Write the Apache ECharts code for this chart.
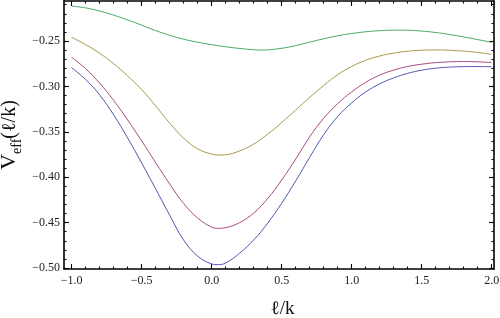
<!DOCTYPE html>
<html><head><meta charset="utf-8">
<script src="https://cdn.jsdelivr.net/npm/echarts@6/dist/echarts.min.js"></script>
<style>html,body{margin:0;padding:0;background:#fff}#c{width:500px;height:318px}</style>
</head><body><div id="c"></div>
<script>
var xsBlue = [-1.0,-0.9,-0.8,-0.7,-0.6,-0.5,-0.4,-0.3,-0.2,-0.1,0.0,0.04,0.1,0.2,0.3,0.4,0.5,0.6,0.7,0.8,0.9,1.0,1.1,1.2,1.3,1.4,1.5,1.6,1.7,1.8,1.9,2.0];
var blue = [-0.2794,-0.2924,-0.3094,-0.3314,-0.3569,-0.3844,-0.4129,-0.4419,-0.4694,-0.4869,-0.4955,-0.4963,-0.4945,-0.4836,-0.4691,-0.4506,-0.4286,-0.4041,-0.3781,-0.3531,-0.3331,-0.3181,-0.3061,-0.2971,-0.2906,-0.2856,-0.2821,-0.2799,-0.2787,-0.2782,-0.2781,-0.2783];
var xsMagenta = [-1.0,-0.9,-0.8,-0.7,-0.6,-0.5,-0.4,-0.3,-0.2,-0.1,0.0,0.05,0.1,0.2,0.3,0.4,0.5,0.6,0.7,0.8,0.9,1.0,1.1,1.2,1.3,1.4,1.5,1.6,1.7,1.8,1.9,2.0];
var magenta = [-0.2680,-0.2805,-0.2965,-0.3155,-0.3370,-0.3600,-0.3840,-0.4075,-0.4290,-0.4450,-0.4550,-0.4563,-0.4556,-0.4500,-0.4395,-0.4235,-0.4030,-0.3800,-0.3555,-0.3350,-0.3190,-0.3060,-0.2955,-0.2875,-0.2820,-0.2780,-0.2755,-0.2738,-0.2729,-0.2726,-0.2729,-0.2736];
var xsOlive = [-1.0,-0.9,-0.8,-0.7,-0.6,-0.5,-0.4,-0.3,-0.2,-0.1,0.0,0.06,0.1,0.2,0.3,0.4,0.5,0.6,0.7,0.8,0.9,1.0,1.1,1.2,1.3,1.4,1.5,1.6,1.7,1.8,1.9,2.0];
var olive = [-0.2459,-0.2540,-0.2635,-0.2750,-0.2885,-0.3035,-0.3215,-0.3405,-0.3570,-0.3688,-0.3745,-0.3756,-0.3753,-0.3710,-0.3635,-0.3525,-0.3398,-0.3260,-0.3120,-0.2990,-0.2870,-0.2780,-0.2712,-0.2665,-0.2633,-0.2612,-0.2601,-0.2598,-0.2602,-0.2611,-0.2626,-0.2647];
var xsGreen = [-1.0,-0.9,-0.8,-0.7,-0.6,-0.5,-0.4,-0.3,-0.2,-0.1,0.0,0.1,0.2,0.3,0.35,0.4,0.5,0.6,0.7,0.8,0.9,1.0,1.1,1.2,1.3,1.4,1.5,1.6,1.7,1.8,1.9,2.0];
var green = [-0.2115,-0.2135,-0.2170,-0.2215,-0.2268,-0.2325,-0.2385,-0.2437,-0.2480,-0.2513,-0.2540,-0.2563,-0.2582,-0.2596,-0.2600,-0.2597,-0.2580,-0.2550,-0.2512,-0.2475,-0.2442,-0.2417,-0.2398,-0.2386,-0.2380,-0.2381,-0.2390,-0.2406,-0.2428,-0.2455,-0.2484,-0.2514];

var XMIN = -1.055, XMAX = 2.0164, YMIN = -0.5011, YMAX = -0.2059;
var FONT = 'Liberation Serif';
function fmt(v, d){ var s = Math.abs(v).toFixed(d); return (Math.abs(v) > 1e-9 && v < 0 ? '\u2212' : '') + s; }
function pairs(xv, ys){ return xv.map(function(x,i){ return [x, ys[i]]; }); }
var frameLine = {show:true, onZero:false, lineStyle:{color:'#000', width:1.6}};
var tickStyle = {color:'#000', width:1.1};

function frameX(pos){ return {type:'value', gridIndex:0, position:pos, min:XMIN, max:XMAX, axisLine:frameLine, axisTick:{show:false}, axisLabel:{show:false}, splitLine:{show:false}}; }
function frameY(pos){ return {type:'value', gridIndex:0, position:pos, min:YMIN, max:YMAX, axisLine:frameLine, axisTick:{show:false}, axisLabel:{show:false}, splitLine:{show:false}}; }
function tickX(grid, pos, labels){
  return {type:'value', gridIndex:grid, position:pos, min:-1.0, max:2.0, interval:0.5,
    axisLine:{show:false, onZero:false},
    axisTick:{show:true, inside:true, length:5, lineStyle:tickStyle},
    minorTick:{show:true, splitNumber:5, length:2.5, lineStyle:tickStyle},
    axisLabel: labels ? {show:true, margin:6, fontFamily:FONT, fontSize:12, color:'#222', formatter:function(v){return fmt(v,1);}} : {show:false},
    splitLine:{show:false}};
}
function tickY(grid, pos, min, max, interval, len, labels){
  return {type:'value', gridIndex:grid, position:pos, min:min, max:max, interval:interval,
    axisLine:{show:false, onZero:false},
    axisTick:{show:true, inside:true, length:len, lineStyle:tickStyle},
    axisLabel: labels ? {show:true, margin:4, fontFamily:FONT, fontSize:12, color:'#222', formatter:function(v){return fmt(v,2);}} : {show:false},
    splitLine:{show:false}};
}
function hidden(grid){ return {type:'value', gridIndex:grid, show:false, min:0, max:1}; }

var xName = frameX('bottom');
xName.name = '{t|\u2113/k}';
xName.nameLocation = 'middle';
xName.nameGap = 31;
xName.nameTextStyle = {rich:{t:{fontFamily:FONT, fontSize:19, color:'#111', padding:[0,0,0,7]}}};
var yName = frameY('left');
yName.name = '{v|V}{s|eff}{t|(\u2113/k)}';
yName.nameLocation = 'middle';
yName.nameRotate = 90;
yName.nameGap = 44;
yName.nameTextStyle = {rich:{
  v:{fontFamily:FONT, fontSize:22, color:'#111', verticalAlign:'bottom'},
  s:{fontFamily:FONT, fontSize:14, color:'#111', verticalAlign:'bottom', padding:[0,0,-4,0]},
  t:{fontFamily:FONT, fontSize:20, color:'#111', verticalAlign:'bottom'}}};

function g(l, r, t, b){ return {left:l, right:r, top:t, bottom:b, containLabel:false, outerBoundsMode:'none'}; }
function ser(xv, ys, color){ return {type:'line', data:pairs(xv, ys), smooth:0.4, symbol:'none', lineStyle:{color:color, width:1}}; }
var option = {
  animation:false,
  backgroundColor:'#fff',
  grid:[g(64,6,1,49), g(71.7,8.3,1,49), g(64,6,41,50), g(64,6,4.68,50)],
  xAxis:[xName, frameX('top'), tickX(1,'bottom',true), tickX(1,'top',false), hidden(2), hidden(3)],
  yAxis:[yName, frameY('right'), hidden(1),
    tickY(2,'left',-0.50,-0.25,0.05,5,true), tickY(2,'right',-0.50,-0.25,0.05,5,false),
    tickY(3,'left',-0.50,-0.21,0.01,2.5,false), tickY(3,'right',-0.50,-0.21,0.01,2.5,false)],
  series:[
    ser(xsBlue, blue, '#5555b5'),
    ser(xsMagenta, magenta, '#aa4a82'),
    ser(xsOlive, olive, '#a8984e'),
    ser(xsGreen, green, '#4aa866')
  ]
};
var chart = echarts.init(document.getElementById('c'), null, {renderer:'canvas'});
chart.setOption(option);
</script></body></html>
